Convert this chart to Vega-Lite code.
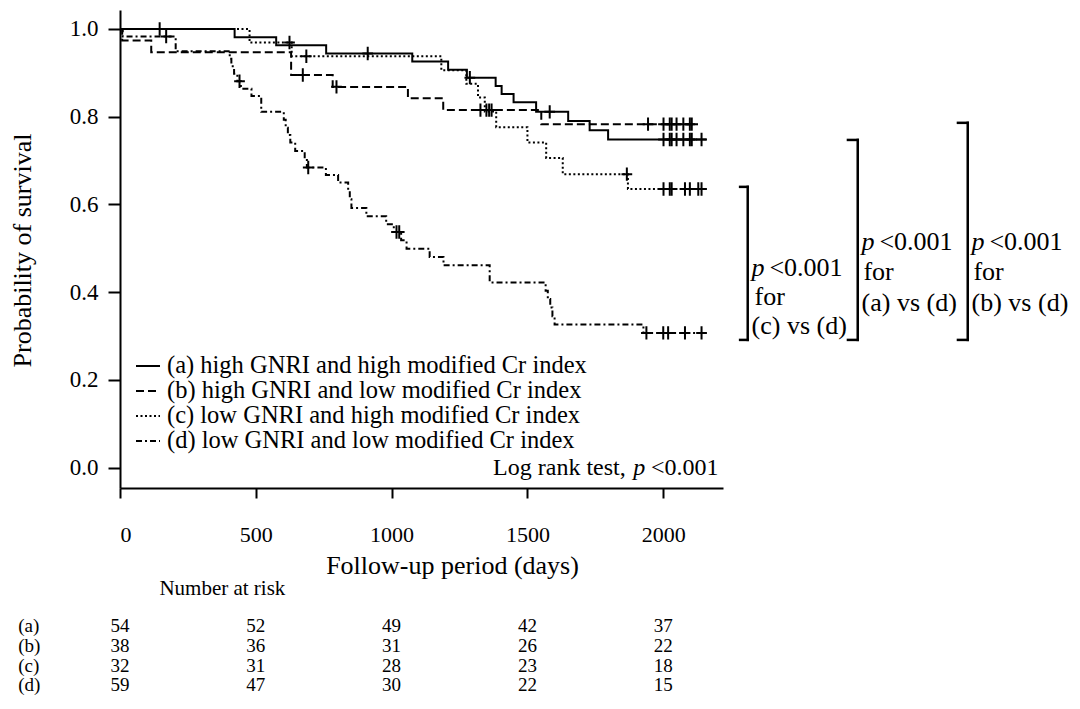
{
  "$schema": "https://vega.github.io/schema/vega-lite/v6.json",
  "width": 603,
  "height": 478,
  "autosize": "none",
  "padding": {"left": 120, "top": 10, "right": 357, "bottom": 221},
  "background": "white",
  "config": {
    "view": {"stroke": null},
    "font": "Liberation Serif",
    "text": {"font": "Liberation Serif", "color": "black", "fontSize": 24, "baseline": "middle"},
    "legend": {"labelFont": "Liberation Serif"}
  },
  "datasets": {
    "curves": [
      {"group": "a", "day": 0, "surv": 1.0}, {"group": "a", "day": 422, "surv": 0.981}, {"group": "a", "day": 575, "surv": 0.963}, {"group": "a", "day": 759, "surv": 0.944}, {"group": "a", "day": 1076, "surv": 0.926}, {"group": "a", "day": 1208, "surv": 0.907}, {"group": "a", "day": 1277, "surv": 0.889}, {"group": "a", "day": 1383, "surv": 0.870}, {"group": "a", "day": 1405, "surv": 0.852}, {"group": "a", "day": 1449, "surv": 0.833}, {"group": "a", "day": 1532, "surv": 0.811}, {"group": "a", "day": 1650, "surv": 0.790}, {"group": "a", "day": 1729, "surv": 0.769}, {"group": "a", "day": 1797, "surv": 0.748}, {"group": "a", "day": 2159, "surv": 0.748},
      {"group": "b", "day": 0, "surv": 1.0}, {"group": "b", "day": 8, "surv": 0.974}, {"group": "b", "day": 115, "surv": 0.947}, {"group": "b", "day": 630, "surv": 0.895}, {"group": "b", "day": 783, "surv": 0.868}, {"group": "b", "day": 1060, "surv": 0.842}, {"group": "b", "day": 1190, "surv": 0.815}, {"group": "b", "day": 1551, "surv": 0.783}, {"group": "b", "day": 2128, "surv": 0.783},
      {"group": "c", "day": 0, "surv": 1.0}, {"group": "c", "day": 477, "surv": 0.969}, {"group": "c", "day": 632, "surv": 0.938}, {"group": "c", "day": 1183, "surv": 0.906}, {"group": "c", "day": 1275, "surv": 0.875}, {"group": "c", "day": 1318, "surv": 0.844}, {"group": "c", "day": 1343, "surv": 0.812}, {"group": "c", "day": 1385, "surv": 0.776}, {"group": "c", "day": 1500, "surv": 0.741}, {"group": "c", "day": 1569, "surv": 0.706}, {"group": "c", "day": 1630, "surv": 0.669}, {"group": "c", "day": 1870, "surv": 0.635}, {"group": "c", "day": 2159, "surv": 0.635},
      {"group": "d", "day": 0, "surv": 1.0}, {"group": "d", "day": 10, "surv": 0.983}, {"group": "d", "day": 205, "surv": 0.949}, {"group": "d", "day": 404, "surv": 0.932}, {"group": "d", "day": 410, "surv": 0.915}, {"group": "d", "day": 420, "surv": 0.898}, {"group": "d", "day": 432, "surv": 0.881}, {"group": "d", "day": 445, "surv": 0.864}, {"group": "d", "day": 484, "surv": 0.847}, {"group": "d", "day": 520, "surv": 0.811}, {"group": "d", "day": 603, "surv": 0.793}, {"group": "d", "day": 610, "surv": 0.775}, {"group": "d", "day": 618, "surv": 0.758}, {"group": "d", "day": 627, "surv": 0.741}, {"group": "d", "day": 645, "surv": 0.722}, {"group": "d", "day": 680, "surv": 0.701}, {"group": "d", "day": 688, "surv": 0.684}, {"group": "d", "day": 758, "surv": 0.667}, {"group": "d", "day": 803, "surv": 0.650}, {"group": "d", "day": 840, "surv": 0.631}, {"group": "d", "day": 846, "surv": 0.612}, {"group": "d", "day": 852, "surv": 0.592}, {"group": "d", "day": 907, "surv": 0.573}, {"group": "d", "day": 980, "surv": 0.555}, {"group": "d", "day": 1008, "surv": 0.537}, {"group": "d", "day": 1035, "surv": 0.518}, {"group": "d", "day": 1055, "surv": 0.499}, {"group": "d", "day": 1140, "surv": 0.480}, {"group": "d", "day": 1191, "surv": 0.461}, {"group": "d", "day": 1361, "surv": 0.422}, {"group": "d", "day": 1567, "surv": 0.403}, {"group": "d", "day": 1575, "surv": 0.384}, {"group": "d", "day": 1584, "surv": 0.365}, {"group": "d", "day": 1592, "surv": 0.345}, {"group": "d", "day": 1600, "surv": 0.326}, {"group": "d", "day": 1927, "surv": 0.307}, {"group": "d", "day": 2159, "surv": 0.307}
    ],
    "censors": [
      {"group": "a", "day": 146, "surv": 1.0}, {"group": "a", "day": 912, "surv": 0.944}, {"group": "a", "day": 1288, "surv": 0.889}, {"group": "a", "day": 1582, "surv": 0.811},
      {"group": "a", "day": 2001, "surv": 0.748}, {"group": "a", "day": 2024, "surv": 0.748}, {"group": "a", "day": 2031, "surv": 0.748}, {"group": "a", "day": 2049, "surv": 0.748}, {"group": "a", "day": 2074, "surv": 0.748}, {"group": "a", "day": 2098, "surv": 0.748}, {"group": "a", "day": 2105, "surv": 0.748}, {"group": "a", "day": 2141, "surv": 0.748},
      {"group": "b", "day": 673, "surv": 0.895}, {"group": "b", "day": 797, "surv": 0.868}, {"group": "b", "day": 1327, "surv": 0.815}, {"group": "b", "day": 1349, "surv": 0.815}, {"group": "b", "day": 1359, "surv": 0.815}, {"group": "b", "day": 1368, "surv": 0.815},
      {"group": "b", "day": 1944, "surv": 0.783}, {"group": "b", "day": 2001, "surv": 0.783}, {"group": "b", "day": 2024, "surv": 0.783}, {"group": "b", "day": 2031, "surv": 0.783}, {"group": "b", "day": 2049, "surv": 0.783}, {"group": "b", "day": 2074, "surv": 0.783}, {"group": "b", "day": 2098, "surv": 0.783}, {"group": "b", "day": 2105, "surv": 0.783},
      {"group": "c", "day": 624, "surv": 0.969}, {"group": "c", "day": 686, "surv": 0.938}, {"group": "c", "day": 1866, "surv": 0.669},
      {"group": "c", "day": 2001, "surv": 0.635}, {"group": "c", "day": 2024, "surv": 0.635}, {"group": "c", "day": 2031, "surv": 0.635}, {"group": "c", "day": 2080, "surv": 0.635}, {"group": "c", "day": 2098, "surv": 0.635}, {"group": "c", "day": 2129, "surv": 0.635}, {"group": "c", "day": 2141, "surv": 0.635},
      {"group": "d", "day": 170, "surv": 0.983}, {"group": "d", "day": 440, "surv": 0.881}, {"group": "d", "day": 693, "surv": 0.684}, {"group": "d", "day": 1018, "surv": 0.537}, {"group": "d", "day": 1028, "surv": 0.537},
      {"group": "d", "day": 1938, "surv": 0.307}, {"group": "d", "day": 2000, "surv": 0.307}, {"group": "d", "day": 2018, "surv": 0.307}, {"group": "d", "day": 2080, "surv": 0.307}, {"group": "d", "day": 2141, "surv": 0.307}
    ],
    "risk": [
      {"row": "a", "day": 0, "n": 54}, {"row": "a", "day": 500, "n": 52}, {"row": "a", "day": 1000, "n": 49}, {"row": "a", "day": 1500, "n": 42}, {"row": "a", "day": 2000, "n": 37},
      {"row": "b", "day": 0, "n": 38}, {"row": "b", "day": 500, "n": 36}, {"row": "b", "day": 1000, "n": 31}, {"row": "b", "day": 1500, "n": 26}, {"row": "b", "day": 2000, "n": 22},
      {"row": "c", "day": 0, "n": 32}, {"row": "c", "day": 500, "n": 31}, {"row": "c", "day": 1000, "n": 28}, {"row": "c", "day": 1500, "n": 23}, {"row": "c", "day": 2000, "n": 18},
      {"row": "d", "day": 0, "n": 59}, {"row": "d", "day": 500, "n": 47}, {"row": "d", "day": 1000, "n": 30}, {"row": "d", "day": 1500, "n": 22}, {"row": "d", "day": 2000, "n": 15}
    ]
  },
  "layer": [
    {
      "data": {"name": "curves"},
      "mark": {"type": "line", "interpolate": "step-after", "color": "black", "strokeWidth": 2},
      "encoding": {
        "x": {"field": "day", "type": "quantitative", "scale": {"domain": [0, 2220], "nice": false, "zero": false},
          "axis": {"values": [0, 500, 1000, 1500, 2000], "format": "d", "title": "Follow-up period (days)", "grid": false,
            "domainColor": "black", "domainWidth": 2, "tickColor": "black", "tickWidth": 2, "tickSize": 10,
            "labelFont": "Liberation Serif", "labelFontSize": 22, "labelColor": "black", "labelPadding": 26,
            "titleFont": "Liberation Serif", "titleFontSize": 26, "titleFontWeight": "normal", "titleColor": "black",
            "titleX": 332, "titleY": 85, "titleBaseline": "alphabetic", "titleAlign": "center"}},
        "y": {"field": "surv", "type": "quantitative", "scale": {"domain": [-0.0467, 1.0433], "nice": false, "zero": false},
          "axis": {"values": [0, 0.2, 0.4, 0.6, 0.8, 1.0], "format": ".1f", "title": "Probability of survival", "grid": false,
            "domainColor": "black", "domainWidth": 2, "tickColor": "black", "tickWidth": 2, "tickSize": 12,
            "labelFont": "Liberation Serif", "labelFontSize": 23, "labelColor": "black", "labelPadding": 10,
            "titleFont": "Liberation Serif", "titleFontSize": 26, "titleFontWeight": "normal", "titleColor": "black",
            "titleX": -90, "titleY": 240, "titleBaseline": "alphabetic", "titleAlign": "center", "titleAngle": -90}},
        "strokeDash": {"field": "group", "type": "nominal",
          "scale": {"domain": ["a", "b", "c", "d"], "range": [[1, 0], [8, 4], [2, 2.5], [6, 3, 2, 3]]},
          "legend": {"orient": "none", "legendX": 15, "legendY": 343, "title": null, "symbolType": "stroke",
            "symbolSize": 576, "symbolStrokeWidth": 2, "symbolStrokeColor": "black",
            "labelFont": "Liberation Serif", "labelFontSize": 24.5, "labelColor": "black", "labelOffset": 6,
            "rowPadding": -2.5, "padding": 0, "labelLimit": 600,
            "labelExpr": "{'a': '(a) high GNRI and high modified Cr index', 'b': '(b) high GNRI and low modified Cr index', 'c': '(c) low GNRI and high modified Cr index', 'd': '(d) low GNRI and low modified Cr index'}[datum.label]"}}
      }
    },
    {
      "data": {"name": "censors"},
      "mark": {"type": "point", "shape": "M-0.8,0H0.8M0,-1V1", "filled": false, "color": "black", "strokeWidth": 2, "size": 180, "opacity": 1},
      "encoding": {
        "x": {"field": "day", "type": "quantitative"},
        "y": {"field": "surv", "type": "quantitative"}
      }
    },
    {
      "data": {"name": "risk"},
      "transform": [{"filter": "datum.row === 'a'"}],
      "mark": {"type": "text", "font": "Liberation Serif", "fontSize": 19, "align": "center"},
      "encoding": {"x": {"field": "day", "type": "quantitative"}, "y": {"datum": -0.362}, "text": {"field": "n"}}
    },
    {
      "data": {"name": "risk"},
      "transform": [{"filter": "datum.row === 'b'"}],
      "mark": {"type": "text", "font": "Liberation Serif", "fontSize": 19, "align": "center"},
      "encoding": {"x": {"field": "day", "type": "quantitative"}, "y": {"datum": -0.407}, "text": {"field": "n"}}
    },
    {
      "data": {"name": "risk"},
      "transform": [{"filter": "datum.row === 'c'"}],
      "mark": {"type": "text", "font": "Liberation Serif", "fontSize": 19, "align": "center"},
      "encoding": {"x": {"field": "day", "type": "quantitative"}, "y": {"datum": -0.452}, "text": {"field": "n"}}
    },
    {
      "data": {"name": "risk"},
      "transform": [{"filter": "datum.row === 'd'"}],
      "mark": {"type": "text", "font": "Liberation Serif", "fontSize": 19, "align": "center"},
      "encoding": {"x": {"field": "day", "type": "quantitative"}, "y": {"datum": -0.497}, "text": {"field": "n"}}
    },
    {"data": {"values": [{}]}, "mark": {"type": "text", "font": "Liberation Serif", "fontSize": 19, "align": "left", "text": "(a)"}, "encoding": {"x": {"datum": -375}, "y": {"datum": -0.362}}},
    {"data": {"values": [{}]}, "mark": {"type": "text", "font": "Liberation Serif", "fontSize": 19, "align": "left", "text": "(b)"}, "encoding": {"x": {"datum": -375}, "y": {"datum": -0.407}}},
    {"data": {"values": [{}]}, "mark": {"type": "text", "font": "Liberation Serif", "fontSize": 19, "align": "left", "text": "(c)"}, "encoding": {"x": {"datum": -375}, "y": {"datum": -0.452}}},
    {"data": {"values": [{}]}, "mark": {"type": "text", "font": "Liberation Serif", "fontSize": 19, "align": "left", "text": "(d)"}, "encoding": {"x": {"datum": -375}, "y": {"datum": -0.497}}},
    {"data": {"values": [{}]}, "mark": {"type": "text", "font": "Liberation Serif", "fontSize": 21, "align": "left", "text": "Number at risk"}, "encoding": {"x": {"datum": 145}, "y": {"datum": -0.277}}},
    {"data": {"values": [{}]}, "mark": {"type": "text", "font": "Liberation Serif", "align": "right", "text": "Log rank test,"}, "encoding": {"x": {"datum": 1862}, "y": {"datum": 0.0}}},
    {"data": {"values": [{}]}, "mark": {"type": "text", "font": "Liberation Serif", "align": "left", "fontStyle": "italic", "text": "p"}, "encoding": {"x": {"datum": 1890}, "y": {"datum": 0.0}}},
    {"data": {"values": [{}]}, "mark": {"type": "text", "font": "Liberation Serif", "align": "left", "text": "<0.001"}, "encoding": {"x": {"datum": 1955}, "y": {"datum": 0.0}}},
    {"data": {"values": [{}]}, "mark": {"type": "rule", "strokeWidth": 2.5, "color": "black", "strokeCap": "square"}, "encoding": {"x": {"datum": 2311}, "y": {"datum": 0.640}, "y2": {"datum": 0.291}}},
    {"data": {"values": [{}]}, "mark": {"type": "rule", "strokeWidth": 2.5, "color": "black", "strokeCap": "square"}, "encoding": {"x": {"datum": 2283}, "x2": {"datum": 2311}, "y": {"datum": 0.640}}},
    {"data": {"values": [{}]}, "mark": {"type": "rule", "strokeWidth": 2.5, "color": "black", "strokeCap": "square"}, "encoding": {"x": {"datum": 2283}, "x2": {"datum": 2311}, "y": {"datum": 0.291}}},
    {"data": {"values": [{}]}, "mark": {"type": "rule", "strokeWidth": 2.5, "color": "black", "strokeCap": "square"}, "encoding": {"x": {"datum": 2716}, "y": {"datum": 0.747}, "y2": {"datum": 0.291}}},
    {"data": {"values": [{}]}, "mark": {"type": "rule", "strokeWidth": 2.5, "color": "black", "strokeCap": "square"}, "encoding": {"x": {"datum": 2680}, "x2": {"datum": 2716}, "y": {"datum": 0.747}}},
    {"data": {"values": [{}]}, "mark": {"type": "rule", "strokeWidth": 2.5, "color": "black", "strokeCap": "square"}, "encoding": {"x": {"datum": 2680}, "x2": {"datum": 2716}, "y": {"datum": 0.291}}},
    {"data": {"values": [{}]}, "mark": {"type": "rule", "strokeWidth": 2.5, "color": "black", "strokeCap": "square"}, "encoding": {"x": {"datum": 3121}, "y": {"datum": 0.786}, "y2": {"datum": 0.291}}},
    {"data": {"values": [{}]}, "mark": {"type": "rule", "strokeWidth": 2.5, "color": "black", "strokeCap": "square"}, "encoding": {"x": {"datum": 3085}, "x2": {"datum": 3121}, "y": {"datum": 0.786}}},
    {"data": {"values": [{}]}, "mark": {"type": "rule", "strokeWidth": 2.5, "color": "black", "strokeCap": "square"}, "encoding": {"x": {"datum": 3085}, "x2": {"datum": 3121}, "y": {"datum": 0.291}}},
    {"data": {"values": [{}]}, "mark": {"type": "text", "font": "Liberation Serif", "fontSize": 26, "align": "left", "fontStyle": "italic", "text": "p"}, "encoding": {"x": {"datum": 2325}, "y": {"datum": 0.455}}},
    {"data": {"values": [{}]}, "mark": {"type": "text", "font": "Liberation Serif", "fontSize": 26, "align": "left", "text": "<0.001"}, "encoding": {"x": {"datum": 2391}, "y": {"datum": 0.455}}},
    {"data": {"values": [{}]}, "mark": {"type": "text", "font": "Liberation Serif", "fontSize": 26, "align": "left", "text": "for"}, "encoding": {"x": {"datum": 2336}, "y": {"datum": 0.389}}},
    {"data": {"values": [{}]}, "mark": {"type": "text", "font": "Liberation Serif", "fontSize": 26, "align": "left", "text": "(c) vs (d)"}, "encoding": {"x": {"datum": 2325}, "y": {"datum": 0.323}}},
    {"data": {"values": [{}]}, "mark": {"type": "text", "font": "Liberation Serif", "fontSize": 26, "align": "left", "fontStyle": "italic", "text": "p"}, "encoding": {"x": {"datum": 2730}, "y": {"datum": 0.514}}},
    {"data": {"values": [{}]}, "mark": {"type": "text", "font": "Liberation Serif", "fontSize": 26, "align": "left", "text": "<0.001"}, "encoding": {"x": {"datum": 2796}, "y": {"datum": 0.514}}},
    {"data": {"values": [{}]}, "mark": {"type": "text", "font": "Liberation Serif", "fontSize": 26, "align": "left", "text": "for"}, "encoding": {"x": {"datum": 2737}, "y": {"datum": 0.446}}},
    {"data": {"values": [{}]}, "mark": {"type": "text", "font": "Liberation Serif", "fontSize": 26, "align": "left", "text": "(a) vs (d)"}, "encoding": {"x": {"datum": 2730}, "y": {"datum": 0.375}}},
    {"data": {"values": [{}]}, "mark": {"type": "text", "font": "Liberation Serif", "fontSize": 26, "align": "left", "fontStyle": "italic", "text": "p"}, "encoding": {"x": {"datum": 3135}, "y": {"datum": 0.514}}},
    {"data": {"values": [{}]}, "mark": {"type": "text", "font": "Liberation Serif", "fontSize": 26, "align": "left", "text": "<0.001"}, "encoding": {"x": {"datum": 3201}, "y": {"datum": 0.514}}},
    {"data": {"values": [{}]}, "mark": {"type": "text", "font": "Liberation Serif", "fontSize": 26, "align": "left", "text": "for"}, "encoding": {"x": {"datum": 3142}, "y": {"datum": 0.446}}},
    {"data": {"values": [{}]}, "mark": {"type": "text", "font": "Liberation Serif", "fontSize": 26, "align": "left", "text": "(b) vs (d)"}, "encoding": {"x": {"datum": 3135}, "y": {"datum": 0.375}}}
  ]
}
